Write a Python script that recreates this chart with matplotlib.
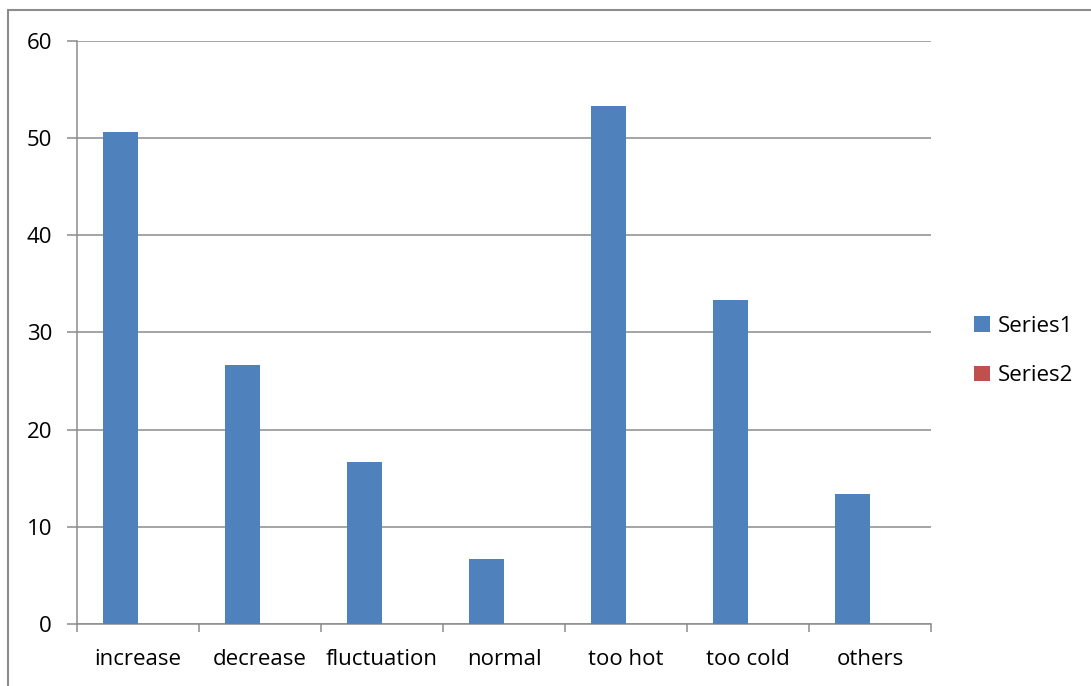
import numpy as np
import matplotlib.pyplot as plt
from matplotlib.patches import Rectangle

categories = ['increase', 'decrease', 'fluctuation', 'normal', 'too hot', 'too cold', 'others']
series1 = [50.67, 26.67, 16.67, 6.67, 53.33, 33.33, 13.33]
series2 = [0, 0, 0, 0, 0, 0, 0]
y_ticks = [0, 10, 20, 30, 40, 50, 60]

plt.rcParams['font.family'] = ['Open Sans', 'DejaVu Sans']

W, H = 1091, 686
fig = plt.figure(figsize=(W / 100, H / 100), dpi=100)
ax = fig.add_axes([77 / W, 1 - 624 / H, (931 - 77) / W, (624 - 41) / H])

# outer chart frame, running off the right and bottom edges
fig.patches.append(Rectangle((8 / W, -0.1), 1.2, 1 - 10 / H + 0.1,
                             transform=fig.transFigure, fill=False,
                             edgecolor='#8c8c8c', linewidth=1.5))

x = np.arange(len(categories))
width = 1 / 3.5  # gap width of 150%
ax.bar(x - width / 2, series1, width, color='#4F81BD', label='Series1', zorder=3)
ax.bar(x + width / 2, series2, width, color='#C0504D', label='Series2', zorder=3)

ax.set_xlim(-0.5, len(categories) - 0.5)
ax.set_ylim(0, 60)
ax.set_yticks(y_ticks)
ax.yaxis.grid(True, color='#8c8c8c', linewidth=1.1, zorder=0)

# category labels centred, tick marks on the boundaries
ax.set_xticks(x)
ax.set_xticklabels(categories)
ax.set_xticks(np.arange(len(categories) + 1) - 0.5, minor=True)
ax.tick_params(axis='x', which='major', length=0, pad=18, labelsize=16)
ax.tick_params(axis='x', which='minor', length=6, color='#8c8c8c', width=1.1)
ax.tick_params(axis='y', length=7, color='#8c8c8c', width=1.1, pad=11, labelsize=16)

for side in ['top', 'right']:
    ax.spines[side].set_visible(False)
for side in ['left', 'bottom']:
    ax.spines[side].set_color('#8c8c8c')
    ax.spines[side].set_linewidth(1.1)

ax.legend(loc='center left', bbox_to_anchor=(974 / W, 1 - 351 / H),
          bbox_transform=fig.transFigure, frameon=False, borderpad=0, borderaxespad=0,
          fontsize=16, handlelength=0.7, handleheight=0.7, handletextpad=0.35,
          labelspacing=1.3)

fig.savefig('out.png', dpi=100)
